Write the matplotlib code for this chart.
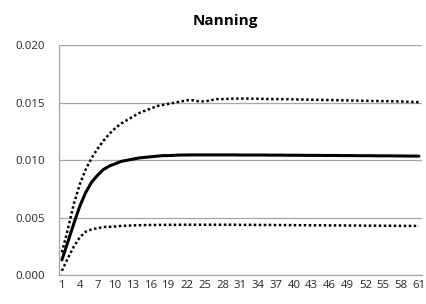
import numpy as np
import matplotlib.pyplot as plt
from matplotlib.ticker import FormatStrFormatter

plt.rcParams['font.family'] = ['Open Sans', 'DejaVu Sans']

# --- 数据（从图上读取，第1~61期） ---
periods = np.arange(1, 62)

mean_resp = [0.00135, 0.0029, 0.0045, 0.0060, 0.0072, 0.0081, 0.0087, 0.0092, 0.0095, 0.0097,
             0.0099, 0.0100, 0.0101, 0.0102, 0.01025, 0.0103, 0.01035, 0.0104, 0.0104, 0.01043,
             0.01045, 0.01045, 0.01046, 0.01046, 0.01046, 0.01046, 0.01046, 0.01046, 0.01046, 0.01046,
             0.01045, 0.01045, 0.01045, 0.01045, 0.01045, 0.01044, 0.01044, 0.01044, 0.01043, 0.01043,
             0.01043, 0.01042, 0.01042, 0.01042, 0.01041, 0.01041, 0.01041, 0.0104, 0.0104, 0.0104,
             0.01039, 0.01039, 0.01039, 0.01038, 0.01038, 0.01038, 0.01037, 0.01037, 0.01036, 0.01036,
             0.01035]

upper_band = [0.0020, 0.0040, 0.0062, 0.0079, 0.0092, 0.0102, 0.0110, 0.0117, 0.0123, 0.0128,
              0.0132, 0.0135, 0.0138, 0.0141, 0.0143, 0.0145, 0.0147, 0.0148, 0.0149, 0.0150,
              0.0151, 0.0152, 0.0152, 0.01512, 0.0151, 0.0152, 0.0153, 0.0153, 0.01533, 0.01535,
              0.01535, 0.01535, 0.01534, 0.01533, 0.01532, 0.01531, 0.0153, 0.0153, 0.01529, 0.01528,
              0.01527, 0.01526, 0.01525, 0.01524, 0.01523, 0.01522, 0.01521, 0.0152, 0.01519, 0.01518,
              0.01517, 0.01516, 0.01515, 0.01514, 0.01513, 0.01512, 0.01511, 0.0151, 0.01508, 0.01506,
              0.01504]

lower_band = [0.0004, 0.0015, 0.0025, 0.0033, 0.0038, 0.0040, 0.0041, 0.0042, 0.00422, 0.00425,
              0.0043, 0.00432, 0.00434, 0.00436, 0.00437, 0.00438, 0.00438, 0.00439, 0.00439, 0.00439,
              0.0044, 0.0044, 0.0044, 0.0044, 0.0044, 0.0044, 0.0044, 0.0044, 0.0044, 0.0044,
              0.00439, 0.00439, 0.00439, 0.00438, 0.00438, 0.00438, 0.00437, 0.00437, 0.00437, 0.00436,
              0.00436, 0.00436, 0.00435, 0.00435, 0.00435, 0.00434, 0.00434, 0.00434, 0.00433, 0.00433,
              0.00433, 0.00432, 0.00432, 0.00432, 0.00431, 0.00431, 0.00431, 0.0043, 0.0043, 0.0043,
              0.0043]

y_ticks = [0.0, 0.005, 0.010, 0.015, 0.020]
x_ticks = periods[::3]

# --- 绘图 ---
fig = plt.figure(figsize=(4.27, 3.04), dpi=100)
ax = fig.add_axes([0.138, 0.094, 0.850, 0.758])

ax.plot(periods, upper_band, color='black', lw=1.8, linestyle=(0, (1, 1)))
ax.plot(periods, lower_band, color='black', lw=1.8, linestyle=(0, (1, 1)))
ax.plot(periods, mean_resp, color='black', lw=2.2, solid_capstyle='round')

ax.set_xlim(0.5, 61.5)
ax.set_ylim(0, 0.020)
ax.set_yticks(y_ticks)
ax.yaxis.set_major_formatter(FormatStrFormatter('%.3f'))
ax.set_xticks(x_ticks)
ax.set_xticklabels([str(v) for v in x_ticks])
ax.grid(axis='y', color='#a6a6a6', lw=0.9)
ax.set_axisbelow(True)

for s in ['top', 'right']:
    ax.spines[s].set_visible(False)
for s in ['left', 'bottom']:
    ax.spines[s].set_color('#a6a6a6')
    ax.spines[s].set_linewidth(0.9)
ax.tick_params(axis='both', length=0, labelsize=8.2, colors='#262626')
ax.tick_params(axis='y', pad=10)
ax.tick_params(axis='x', pad=3.5)

fig.text(0.527, 0.931, 'Nanning', ha='center', va='center', fontsize=11, fontweight='bold')

fig.savefig('out.png', dpi=100)
